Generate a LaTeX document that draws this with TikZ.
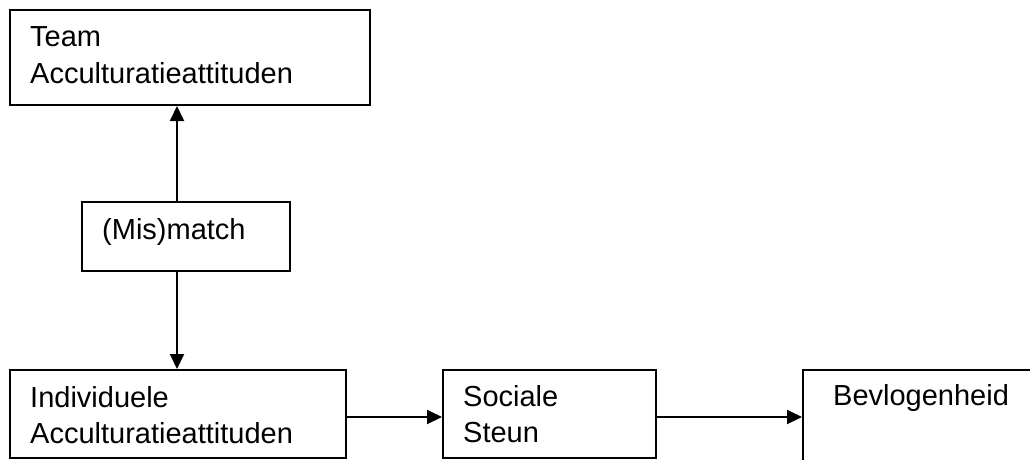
\documentclass[tikz,border=0pt]{standalone}
\usepackage{fontspec}
\setmainfont{Liberation Sans}
\usetikzlibrary{arrows.meta}

\tikzset{
  box/.style={draw=black, line width=2pt, rectangle, inner sep=0pt, anchor=north west},
  lbl/.style={anchor=base west, inner sep=0pt, font=\fontsize{29}{37}\selectfont},
  arr/.style={line width=2pt, -{Triangle[length=15pt,width=14pt]}}
}

\begin{document}
\begin{tikzpicture}[x=1pt,y=-1pt]
  \useasboundingbox (0,0) rectangle (1030,459);
  \clip (0,0) rectangle (1030,459);

  % boxes
  \node[box, minimum width=360pt, minimum height=95pt] (team) at (9,9) {};
  \node[box, minimum width=208pt, minimum height=69pt] (mm) at (81,201) {};
  \node[box, minimum width=336pt, minimum height=88pt] (ind) at (9,369) {};
  \node[box, minimum width=213pt, minimum height=88pt] (soc) at (442,369) {};
  \node[box, minimum width=260pt, minimum height=120pt] (bev) at (802,369) {};

  % labels
  \node[lbl] (teamA) at (30,46) {Team};
  \node[lbl] (teamB) at (30,83) {Acculturatieattituden};
  \node[lbl] (mmA) at (102,239) {(Mis)match};
  \node[lbl] (indA) at (30,407) {Individuele};
  \node[lbl] (indB) at (30,443) {Acculturatieattituden};
  \node[lbl] (socA) at (463,406) {Sociale};
  \node[lbl] (socB) at (463,442) {Steun};
  \node[lbl] (bevA) at (833,405) {Bevlogenheid};

  % connector guides
  \coordinate (vx) at (177,0);
  \coordinate (hy) at (0,417);

  % connectors
  \draw[arr] (mm.north -| vx) -- (team.south -| vx);
  \draw[arr] (mm.south -| vx) -- (ind.north -| vx);
  \draw[arr] (ind.east |- hy) -- (soc.west |- hy);
  \draw[arr] (soc.east |- hy) -- (bev.west |- hy);
\end{tikzpicture}
\end{document}
